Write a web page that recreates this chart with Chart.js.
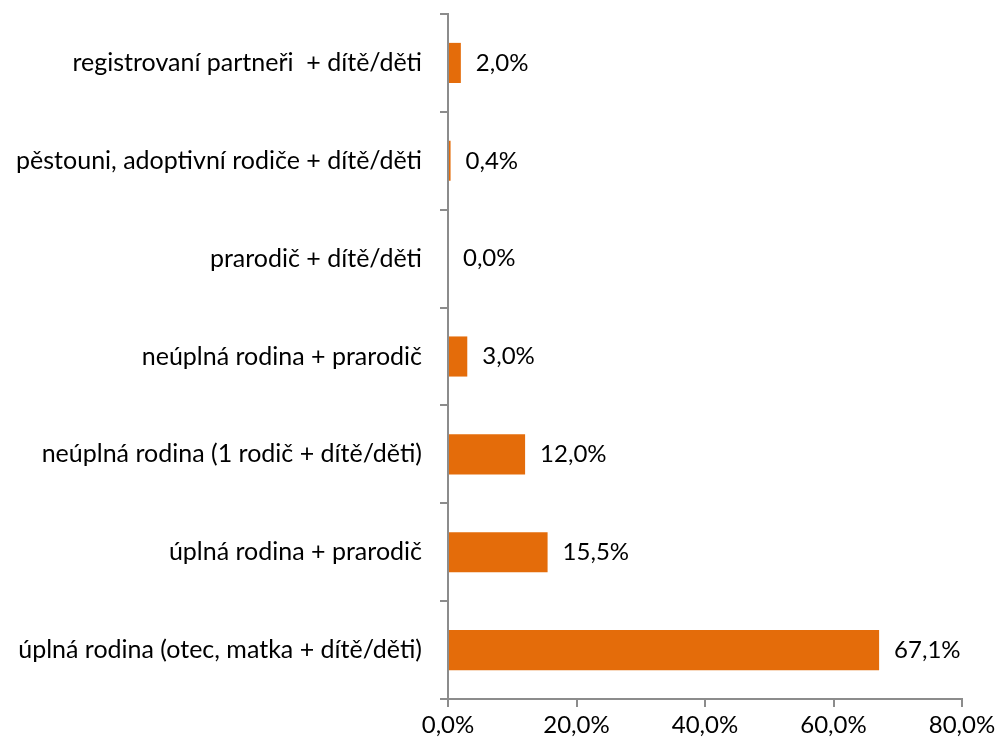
<!DOCTYPE html>
<html>
<head>
<meta charset="utf-8">
<script src="https://cdn.jsdelivr.net/npm/chart.js@4.4.1/dist/chart.umd.min.js"></script>
<style>
  html, body { margin: 0; padding: 0; background: #fff; }
  #wrap { width: 1000px; height: 746px; }
</style>
</head>
<body>
<div id="wrap"><canvas id="chart"></canvas></div>
<script>
// data (top to bottom)
const categories = [
  "registrovaní partneři  + dítě/děti",
  "pěstouni, adoptivní rodiče + dítě/děti",
  "prarodič + dítě/děti",
  "neúplná rodina + prarodič",
  "neúplná rodina (1 rodič + dítě/děti)",
  "úplná rodina + prarodič",
  "úplná rodina (otec, matka + dítě/děti)"
];
const shares = [2.0, 0.4, 0.0, 3.0, 12.0, 15.5, 67.1];
const xTicks = [0, 20, 40, 60, 80];

const fontFamily = "Lato, 'Open Sans', sans-serif";
const fmt = (v) => v.toFixed(1).replace(".", ",") + "%";

// draws the value next to the end of each bar
const valueLabels = {
  id: "valueLabels",
  afterDatasetsDraw(chart) {
    const ctx = chart.ctx;
    const meta = chart.getDatasetMeta(0);
    ctx.save();
    ctx.font = "24px " + fontFamily;
    ctx.fillStyle = "#000";
    ctx.textBaseline = "middle";
    ctx.textAlign = "left";
    meta.data.forEach((bar, i) => {
      ctx.fillText(fmt(shares[i]), bar.x + 15, bar.y);
    });
    ctx.restore();
  }
};

new Chart(document.getElementById("chart"), {
  type: "bar",
  data: {
    labels: categories,
    datasets: [{
      data: shares,
      backgroundColor: "#E46C0A",
      borderWidth: 0,
      barPercentage: 0.41,
      categoryPercentage: 1.0
    }]
  },
  options: {
    indexAxis: "y",
    responsive: true,
    maintainAspectRatio: false,
    animation: false,
    layout: { padding: { top: 14, right: 38, left: 0, bottom: 0 } },
    plugins: {
      legend: { display: false },
      tooltip: { enabled: false }
    },
    scales: {
      x: {
        min: 0,
        max: 80,
        afterBuildTicks: (scale) => { scale.ticks = xTicks.map(v => ({ value: v })); },
        afterFit: (scale) => { scale.height = 47; },
        border: { color: "#8c8c8c", width: 2 },
        grid: { drawOnChartArea: false, drawTicks: true, tickLength: 8, color: "#8c8c8c", lineWidth: 2 },
        ticks: {
          color: "#000",
          padding: 4,
          font: { family: fontFamily, size: 24 },
          callback: (v) => fmt(v)
        }
      },
      y: {
        afterFit: (scale) => {
          scale.width = 448;
          scale.paddingTop = 0;
          scale.paddingBottom = 0;
        },
        border: { color: "#8c8c8c", width: 2 },
        grid: { offset: true, drawOnChartArea: false, drawTicks: true, tickLength: 8, color: "#8c8c8c", lineWidth: 2 },
        ticks: {
          color: "#000",
          padding: 18,
          font: { family: fontFamily, size: 25 }
        }
      }
    }
  },
  plugins: [valueLabels]
});
</script>
</body>
</html>
